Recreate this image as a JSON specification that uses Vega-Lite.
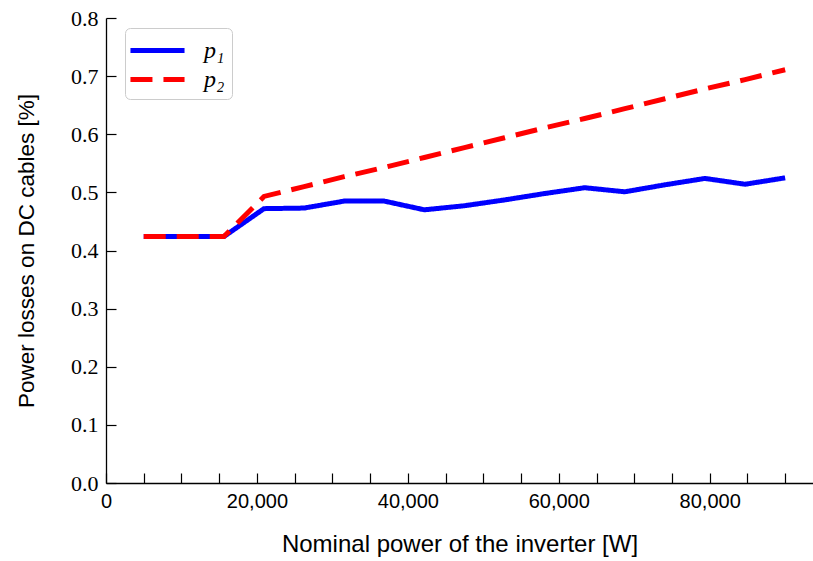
{
  "$schema": "https://vega.github.io/schema/vega-lite/v6.json",
  "autosize": {"type": "none"},
  "width": 707,
  "height": 465,
  "padding": {"left": 106, "top": 18, "right": 0, "bottom": 78},
  "background": "white",
  "config": {
    "view": {"stroke": null},
    "axis": {
      "domainColor": "black",
      "domainWidth": 1.3,
      "tickColor": "black",
      "tickWidth": 1.2,
      "ticks": true,
      "tickOpacity": 1,
      "grid": false,
      "titleFont": "Liberation Sans",
      "titleFontWeight": "normal",
      "titleColor": "black",
      "labelColor": "black"
    }
  },
  "datasets": {
    "lines": [
      {"power": 5000, "loss": 0.424, "series": "p₁"},
      {"power": 10312.5, "loss": 0.424, "series": "p₁"},
      {"power": 15625, "loss": 0.424, "series": "p₁"},
      {"power": 20937.5, "loss": 0.472, "series": "p₁"},
      {"power": 26250, "loss": 0.473, "series": "p₁"},
      {"power": 31562.5, "loss": 0.485, "series": "p₁"},
      {"power": 36875, "loss": 0.485, "series": "p₁"},
      {"power": 42187.5, "loss": 0.470, "series": "p₁"},
      {"power": 47500, "loss": 0.477, "series": "p₁"},
      {"power": 52812.5, "loss": 0.487, "series": "p₁"},
      {"power": 58125, "loss": 0.498, "series": "p₁"},
      {"power": 63437.5, "loss": 0.508, "series": "p₁"},
      {"power": 68750, "loss": 0.501, "series": "p₁"},
      {"power": 74062.5, "loss": 0.513, "series": "p₁"},
      {"power": 79375, "loss": 0.524, "series": "p₁"},
      {"power": 84687.5, "loss": 0.514, "series": "p₁"},
      {"power": 90000, "loss": 0.525, "series": "p₁"},
      {"power": 5000, "loss": 0.424, "series": "p₂"},
      {"power": 10312.5, "loss": 0.424, "series": "p₂"},
      {"power": 15625, "loss": 0.424, "series": "p₂"},
      {"power": 20937.5, "loss": 0.493, "series": "p₂"},
      {"power": 26250, "loss": 0.510, "series": "p₂"},
      {"power": 31562.5, "loss": 0.527, "series": "p₂"},
      {"power": 36875, "loss": 0.543, "series": "p₂"},
      {"power": 42187.5, "loss": 0.560, "series": "p₂"},
      {"power": 47500, "loss": 0.577, "series": "p₂"},
      {"power": 52812.5, "loss": 0.594, "series": "p₂"},
      {"power": 58125, "loss": 0.611, "series": "p₂"},
      {"power": 63437.5, "loss": 0.627, "series": "p₂"},
      {"power": 68750, "loss": 0.644, "series": "p₂"},
      {"power": 74062.5, "loss": 0.661, "series": "p₂"},
      {"power": 79375, "loss": 0.678, "series": "p₂"},
      {"power": 84687.5, "loss": 0.694, "series": "p₂"},
      {"power": 90000, "loss": 0.711, "series": "p₂"}
    ]
  },
  "layer": [
    {
      "mark": {"type": "rule", "color": "black", "strokeWidth": 1.3},
      "encoding": {
        "y": {"datum": 0.8, "type": "quantitative", "scale": {"domain": [0, 0.8], "nice": false}}
      }
    },
    {
      "data": {"name": "lines"},
      "mark": {"type": "line", "strokeWidth": 5, "clip": true},
      "encoding": {
        "x": {
          "field": "power",
          "type": "quantitative",
          "scale": {"domain": [0, 93690], "nice": false, "zero": false},
          "axis": {
            "title": "Nominal power of the inverter [W]",
            "titleFontSize": 24,
            "titlePadding": 21,
            "values": [0, 5000, 10000, 15000, 20000, 25000, 30000, 35000, 40000, 45000, 50000, 55000, 60000, 65000, 70000, 75000, 80000, 85000, 90000],
            "labelExpr": "datum.value % 20000 === 0 ? format(datum.value, ',') : ''",
            "labelFont": "Liberation Sans",
            "labelFontSize": 20,
            "labelPadding": 18,
            "labelFlush": false,
            "labelOverlap": false,
            "tickSize": -10,
            "encode": {
              "ticks": {
                "update": {
                  "y2": {"signal": "datum.value % 20000 === 0 ? -10 : -6"}
                }
              }
            }
          }
        },
        "y": {
          "field": "loss",
          "type": "quantitative",
          "scale": {"domain": [0, 0.8], "nice": false},
          "axis": {
            "title": "Power losses on DC cables [%]",
            "titleFontSize": 22.5,
            "titlePadding": 32,
            "values": [0, 0.1, 0.2, 0.3, 0.4, 0.5, 0.6, 0.7, 0.8],
            "format": ".1f",
            "labelFont": "Liberation Serif",
            "labelFontSize": 22,
            "labelPadding": 18,
            "labelFlush": false,
            "tickSize": -10,
            "encode": {
              "ticks": {
                "update": {
                  "x2": {"value": 10}
                }
              }
            }
          }
        },
        "color": {
          "field": "series",
          "type": "nominal",
          "scale": {"domain": ["p₁", "p₂"], "range": ["#0000ff", "#ff0000"]},
          "legend": {
            "title": null,
            "orient": "none",
            "legendX": 19,
            "legendY": 10,
            "symbolType": "M-2.08,0H2.08",
            "symbolStrokeWidth": 5,
            "symbolSize": 676,
            "symbolOffset": 10,
            "symbolFillColor": "transparent",
            "labelOffset": 31,
            "rowPadding": 1,
            "labelFont": "Liberation Serif",
            "labelFontStyle": "italic",
            "labelFontSize": 24,
            "strokeColor": "#cccccc",
            "fillColor": "white",
            "cornerRadius": 5,
            "padding": 7
          }
        },
        "strokeDash": {
          "field": "series",
          "type": "nominal",
          "scale": {"domain": ["p₁", "p₂"], "range": [[1, 0], [22, 11]]},
          "legend": {
            "title": null,
            "orient": "none",
            "legendX": 19,
            "legendY": 10
          }
        }
      }
    }
  ]
}
